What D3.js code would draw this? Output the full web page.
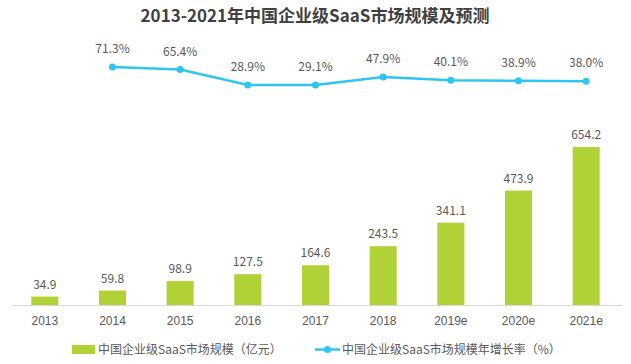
<!DOCTYPE html>
<html><head><meta charset="utf-8">
<script src="https://cdn.jsdelivr.net/npm/d3@7"></script>
<style>
html,body{margin:0;padding:0;background:#fff;}
svg{display:block;font-family:"Microsoft YaHei","Noto Sans CJK SC","Noto Sans",sans-serif;}
</style></head>
<body>
<svg id="chart" width="631" height="364"></svg>
<script>
const categories = ["2013","2014","2015","2016","2017","2018","2019e","2020e","2021e"];
const marketSize = [34.9,59.8,98.9,127.5,164.6,243.5,341.1,473.9,654.2];
const growthCats = ["2014","2015","2016","2017","2018","2019e","2020e","2021e"];
const growthRate = [71.3,65.4,28.9,29.1,47.9,40.1,38.9,38.0];
const titleText = "2013-2021年中国企业级SaaS市场规模及预测";
const legendBar = "中国企业级SaaS市场规模（亿元）";
const legendLine = "中国企业级SaaS市场规模年增长率（%）";

const barColor = "#b0d236", lineColor = "#2ec5f0", textColor = "#595959";
const svg = d3.select("#chart");

const x = d3.scaleBand().domain(categories).range([11, 620]).paddingInner(0.6).paddingOuter(0.3);
const y = d3.scaleLinear().domain([0, 700]).range([305, 136]);
const yL = d3.scaleLinear().domain([0, 100]).range([97.3, 54.8]);

svg.append("text").attr("x", 315).attr("y", 22).attr("text-anchor", "middle")
  .attr("font-size", 17).attr("font-weight", "bold").attr("fill", "#404040").text(titleText);

// bars
svg.selectAll("rect.bar").data(marketSize).join("rect").attr("class","bar")
  .attr("x", (d,i)=>x(categories[i])).attr("width", x.bandwidth())
  .attr("y", d=>y(d)).attr("height", d=>y(0)-y(d)).attr("fill", barColor);
svg.selectAll("text.bl").data(marketSize).join("text").attr("class","bl")
  .attr("x",(d,i)=>x(categories[i])+x.bandwidth()/2).attr("y", d=>y(d)-8)
  .attr("text-anchor","middle").attr("font-size",12).attr("fill",textColor)
  .text(d=>d.toFixed(1));

// axis
const ax = svg.append("g").attr("transform","translate(0,305)").call(d3.axisBottom(x).tickSize(0).tickPadding(11));
ax.select(".domain").attr("stroke","#d9d9d9").attr("d","M12,0.5H622");
ax.selectAll("text").attr("font-size",12).attr("fill",textColor).attr("font-family","inherit");

// line
const cx = c => x(c)+x.bandwidth()/2;
const line = d3.line().x((d,i)=>cx(growthCats[i])).y(d=>yL(d));
svg.append("path").datum(growthRate).attr("d", line).attr("fill","none")
  .attr("stroke", lineColor).attr("stroke-width", 2.5);
svg.selectAll("circle.pt").data(growthRate).join("circle").attr("class","pt")
  .attr("cx",(d,i)=>cx(growthCats[i])).attr("cy",d=>yL(d)).attr("r",3.5).attr("fill",lineColor);
svg.selectAll("text.ll").data(growthRate).join("text").attr("class","ll")
  .attr("x",(d,i)=>cx(growthCats[i])).attr("y",d=>yL(d)-14)
  .attr("text-anchor","middle").attr("font-size",12).attr("fill",textColor)
  .text(d=>d.toFixed(1)+"%");

// legend
const lg = svg.append("g");
lg.append("rect").attr("x",72).attr("y",345).attr("width",23).attr("height",9).attr("fill",barColor);
lg.append("text").attr("x",98).attr("y",354).attr("font-size",12).attr("fill",textColor).text(legendBar);
lg.append("line").attr("x1",315).attr("x2",340).attr("y1",349.5).attr("y2",349.5).attr("stroke",lineColor).attr("stroke-width",2.5);
lg.append("circle").attr("cx",327.5).attr("cy",349.5).attr("r",3.5).attr("fill",lineColor);
lg.append("text").attr("x",342).attr("y",354).attr("font-size",12).attr("fill",textColor).text(legendLine);
</script>
</body></html>
